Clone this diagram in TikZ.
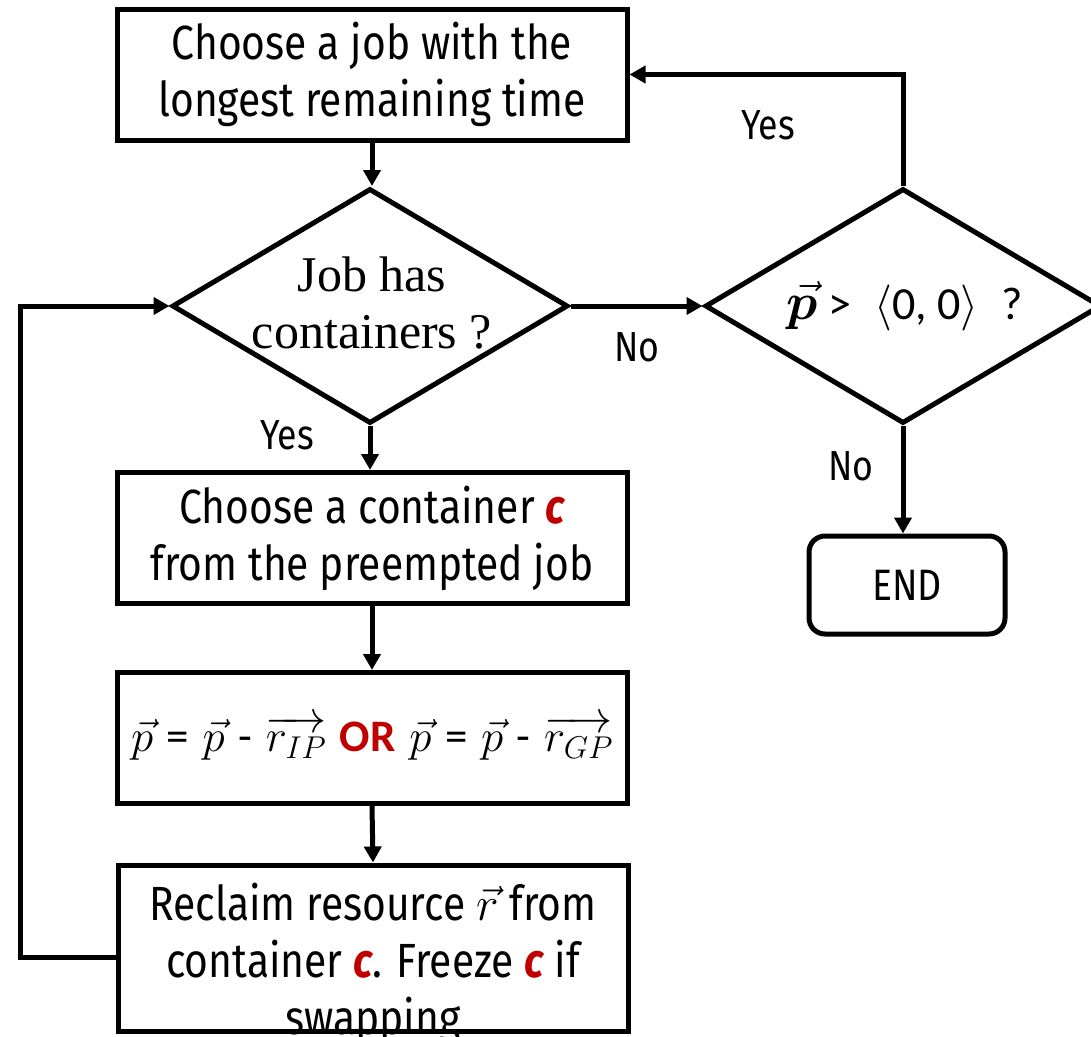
\documentclass[tikz,border=0pt]{standalone}
\usepackage{fix-cm}
\usepackage{amsmath,bm}
\usepackage{fontspec}
\newfontfamily\thinfont{Fira Sans}[FakeStretch=0.85]
\newfontfamily\labelfont{Fira Sans}[FakeStretch=0.85]
\newfontfamily\calfont{Carlito}
\newfontfamily\serfont{Liberation Serif}
\usetikzlibrary{shapes.geometric,arrows.meta}
\definecolor{cred}{RGB}{192,0,0}
\newcommand{\cvar}{{\labelfont\bfseries\itshape\color{cred}c}}

\begin{document}
\begin{tikzpicture}[x=1pt,y=-1pt,
  line width=5pt,
  box/.style={draw, minimum width=510pt, minimum height=131pt, inner sep=0pt},
  decision/.style={draw, diamond, minimum width=396pt, minimum height=235pt,
                   inner sep=0pt, aspect=1.685},
  flow/.style={-{Triangle[length=16pt,width=17pt]}},
  lbl/.style={font=\labelfont\fontsize{42}{50}\selectfont, inner sep=0pt},
  txt/.style={font=\thinfont\fontsize{48}{57}\selectfont, align=center, inner sep=0pt},
]
\useasboundingbox (0,0) rectangle (1091,1036);

% process boxes
\node[box, txt] (choose) at (372,74.5) {Choose a job with the\\longest remaining time};
\node[box, txt] (pick) at (372,538) {Choose a container \cvar\\from the preempted job};
\node[box, font=\fontsize{45}{52}\selectfont] (update) at (372,738)
  {$\vec{p}$ {\calfont =} $\vec{p}$ {\calfont -} $\overrightarrow{r_{IP}}$
   {\calfont\bfseries\color{cred}OR} $\vec{p}$ {\calfont =} $\vec{p}$ {\calfont -} $\overrightarrow{r_{GP}}$};
\node[txt] (reclaimtext) at (373,964)
  {Reclaim resource $\vec{r}$ from\\container \cvar. Freeze \cvar\ if\\swapping};
\node[box, minimum height=166pt] (reclaim) at (373,948) {};

% decisions
\node[decision] (hascont) at (370,306) {};
\node[font=\serfont\fontsize{50}{57}\selectfont, align=center, inner sep=0pt] (hascontText)
  at (372,303) {Job has\\containers ?};
\node[decision] (pos) at (903,306) {};
\node[font=\calfont\fontsize{46}{52}\selectfont, inner sep=0pt] (posText) at (905,306)
  {{\fontsize{52}{52}\selectfont$\vec{\bm{p}}$} >\enspace$\langle$0, 0$\rangle$\enspace ?};

% terminal
\node[draw, rounded corners=16pt, minimum width=196pt, minimum height=98pt,
      font=\labelfont\fontsize{44}{50}\selectfont] (end) at (907,585) {END};

% connectors
\coordinate (loop) at (20,957);
\draw[flow] (choose.south) -- (choose.south |- hascont.north);
\draw[flow] (hascont.east) -- (pos.west);
\draw[flow] (pos.north) |- (choose.east);
\draw[flow] (pos.south) -- (pos.south |- end.north);
\draw[flow] (hascont.south) -- (hascont.south |- pick.north);
\draw[flow] (pick.south) -- (update.north);
\draw[flow] (update.south) -- (reclaim.north);
\draw[flow] (reclaim.west |- loop) -- (loop) |- (hascont.west);

% branch labels
\node[lbl] (no1) at (637,347) {No};
\node[lbl] (yes1) at (768,125) {Yes};
\node[lbl] (no2) at (851,466) {No};
\node[lbl] (yes2) at (287,435) {Yes};
\end{tikzpicture}
\end{document}
